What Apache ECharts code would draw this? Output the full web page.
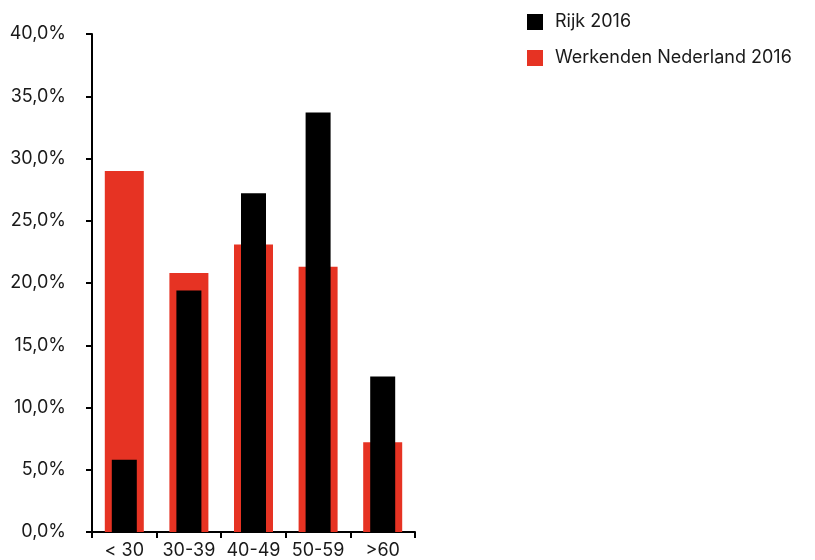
<!DOCTYPE html>
<html>
<head>
<meta charset="utf-8">
<script src="https://cdn.jsdelivr.net/npm/echarts@6/dist/echarts.min.js"></script>
<style>
html,body{margin:0;padding:0;background:#fff;}
#chart{width:815px;height:560px;}
</style>
</head>
<body>
<div id="chart"></div>
<script>
var categories = ['< 30', '30-39', '40-49', '50-59', '>60'];
var rijk = [5.8, 19.4, 27.2, 33.7, 12.5];
var werkenden = [29.0, 20.8, 23.1, 21.3, 7.2];

var chart = echarts.init(document.getElementById('chart'));
var fnt = 'Inter';

var option = {
    animation: false,
    legend: {
        orient: 'vertical',
        left: 522,
        top: 8,
        itemWidth: 16,
        itemHeight: 16,
        itemGap: 18,
        icon: 'rect',
        textStyle: {color: '#1a1a1a', fontFamily: fnt, fontSize: 18, padding: [0, 0, 0, 7]},
        data: ['Rijk 2016', 'Werkenden Nederland 2016']
    },
    grid: {left: 92, right: 400, top: 34, bottom: 28, containLabel: false},
    xAxis: [{
        type: 'category',
        data: categories,
        axisLine: {lineStyle: {color: '#000', width: 2}},
        axisTick: {show: true, length: 6, lineStyle: {color: '#000', width: 2}},
        axisLabel: {color: '#1a1a1a', fontFamily: fnt, fontSize: 18, margin: 10, interval: 0}
    }, {
        type: 'category',
        data: categories,
        position: 'bottom',
        show: false
    }],
    yAxis: {
        type: 'value',
        min: 0,
        max: 40,
        interval: 5,
        splitLine: {show: false},
        axisLine: {show: true, lineStyle: {color: '#000', width: 2}},
        axisTick: {show: true, length: 6, lineStyle: {color: '#000', width: 2}},
        axisLabel: {
            color: '#1a1a1a', fontFamily: fnt, fontSize: 18, margin: 26,
            formatter: function (v) { return v.toFixed(1).replace('.', ',') + '%'; }
        }
    },
    series: [{
        name: 'Werkenden Nederland 2016',
        type: 'bar',
        xAxisIndex: 0,
        barWidth: 39,
        itemStyle: {color: '#e63323'},
        data: werkenden
    }, {
        name: 'Rijk 2016',
        type: 'bar',
        xAxisIndex: 1,
        barWidth: 25,
        itemStyle: {color: '#000000'},
        data: rijk
    }]
};
chart.setOption(option);
</script>
</body>
</html>
